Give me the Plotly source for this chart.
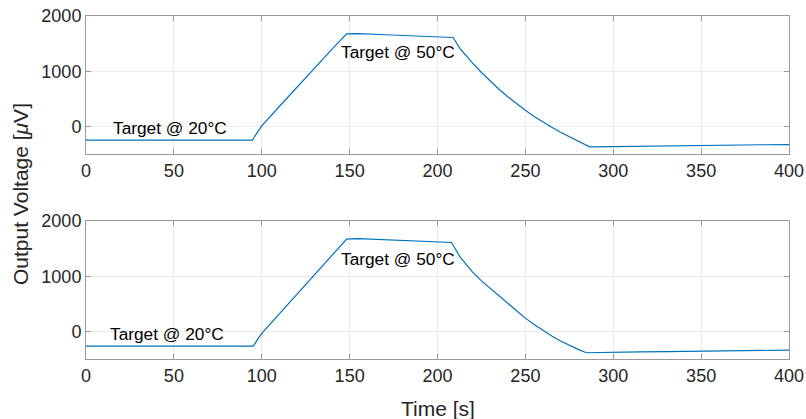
import plotly.graph_objects as go
from plotly.subplots import make_subplots

# ---- data ----
top_time = [0, 20, 40, 60, 80, 94.7, 97, 100, 110, 120, 130, 140, 148.3, 155, 170, 190,
            208.9, 212.7, 216, 220, 225, 230, 235, 240, 245, 250, 255, 260,
            265, 270, 275, 280, 286.5, 300, 315, 330, 350, 370, 385, 400]
top_voltage = [-248, -250, -252, -250, -251, -250, -130, 10, 360, 710, 1060, 1400, 1675,
               1680, 1660, 1635, 1611, 1413, 1288, 1145, 976, 820, 673, 537, 410, 292,
               181, 78, -17, -107, -190, -268, -371, -366, -358, -350, -342, -337, -333, -330]

bot_time = [0, 20, 40, 60, 80, 95.2, 97.5, 100, 110, 120, 130, 140, 148.3, 155, 170, 190,
            208, 212.7, 216, 220, 225, 230, 235, 240, 245, 250, 255, 260,
            265, 270, 275, 280, 284.7, 300, 315, 330, 350, 370, 385, 400]
bot_voltage = [-265, -267, -266, -268, -266, -267, -150, -36, 318, 672, 1026, 1380, 1673,
               1680, 1660, 1635, 1611, 1356, 1225, 1075, 915, 775, 640, 510, 375, 240,
               125, 15, -85, -175, -255, -325, -387, -385, -372, -366, -358, -350, -345, -340]

x_ticks = [0, 50, 100, 150, 200, 250, 300, 350, 400]
y_ticks = [0, 1000, 2000]

labels_top = [("Target @ 20°C", 14, -20), ("Target @ 50°C", 143.7, 1340)]
labels_bot = [("Target @ 20°C", 12.6, -50), ("Target @ 50°C", 143.7, 1310)]

LINE = "#0072BD"
FONT = "Liberation Sans, Arial, sans-serif"
TXT = "#262626"

fig = make_subplots(rows=2, cols=1, vertical_spacing=0.195)
fig.add_trace(go.Scatter(x=top_time, y=top_voltage, mode="lines",
                         line=dict(color=LINE, width=1.2), showlegend=False), row=1, col=1)
fig.add_trace(go.Scatter(x=bot_time, y=bot_voltage, mode="lines",
                         line=dict(color=LINE, width=1.2), showlegend=False), row=2, col=1)

axis_common = dict(showline=True, linecolor="#999999", linewidth=1, mirror="allticks",
                   ticks="inside", ticklen=5, tickcolor="#999999", automargin=False,
                   showgrid=True, gridcolor="#ebebeb", gridwidth=1, zeroline=False,
                   tickfont=dict(family=FONT, size=18, color=TXT))

for r in (1, 2):
    fig.update_xaxes(range=[0, 400], tickvals=x_ticks, row=r, col=1, **axis_common)
    fig.update_yaxes(range=[-500, 2000], tickvals=y_ticks, row=r, col=1, **axis_common)

fig.update_layout(
    xaxis=dict(domain=[0, 1]), xaxis2=dict(domain=[0, 1]),
    yaxis=dict(domain=[0.5977, 1.0]), yaxis2=dict(domain=[0.0, 0.4023]),
)

for (txt, x, y) in labels_top:
    fig.add_annotation(x=x, y=y, xref="x", yref="y", text=txt, showarrow=False,
                       xanchor="left", yanchor="middle",
                       font=dict(family=FONT, size=17.3, color="#000000"))
for (txt, x, y) in labels_bot:
    fig.add_annotation(x=x, y=y, xref="x2", yref="y2", text=txt, showarrow=False,
                       xanchor="left", yanchor="middle",
                       font=dict(family=FONT, size=17.3, color="#000000"))

fig.add_annotation(x=-0.0939, y=0.481, xref="paper", yref="paper",
                   text="Output Voltage [<i>μ</i>V]", textangle=-90, showarrow=False,
                   xanchor="center", yanchor="middle",
                   font=dict(family=FONT, size=21, color=TXT))
fig.add_annotation(x=0.5, y=-0.143, xref="paper", yref="paper",
                   text="Time [s]", showarrow=False, xanchor="center", yanchor="middle",
                   font=dict(family=FONT, size=21, color=TXT))

fig.update_layout(width=806, height=419, margin=dict(l=86, r=17, t=16, b=60),
                  paper_bgcolor="white", plot_bgcolor="white")

fig.write_html("out.html")
